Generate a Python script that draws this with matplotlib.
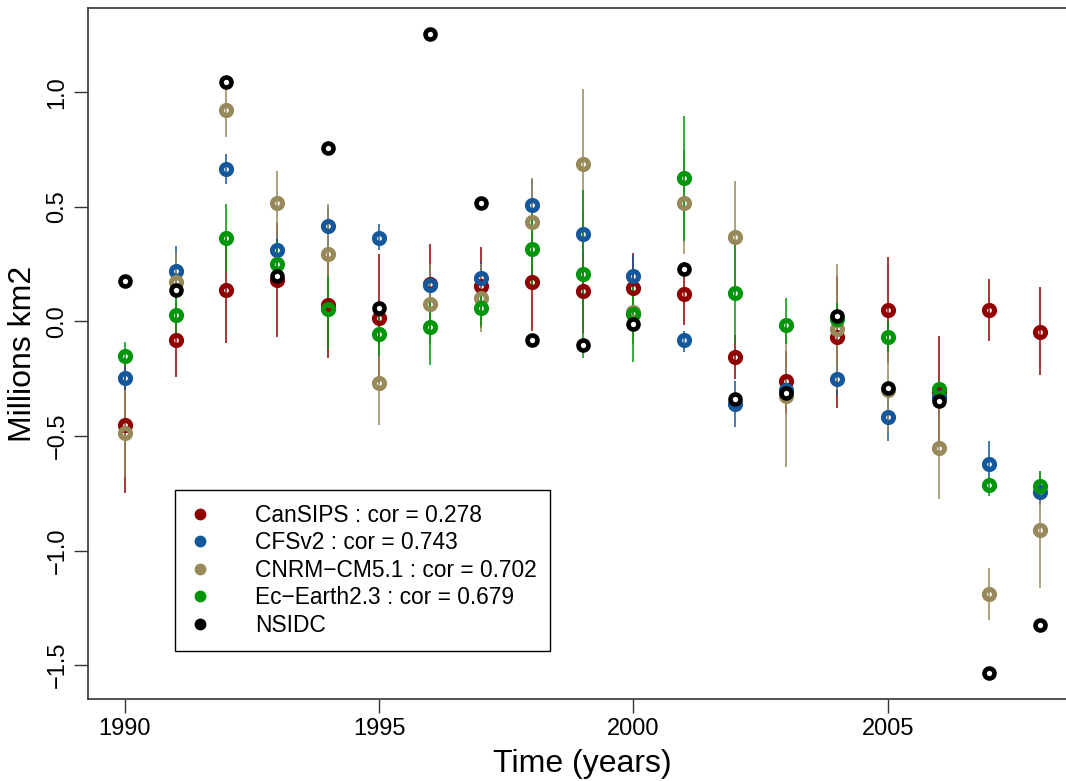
import matplotlib
matplotlib.use("Agg")
import matplotlib.pyplot as plt
from matplotlib.lines import Line2D

plt.rcParams["font.family"] = ["Liberation Sans", "DejaVu Sans"]

years = list(range(1990, 2009))

cansips = [-0.454, -0.083, 0.138, 0.182, 0.073, 0.016, 0.162, 0.154, 0.172, 0.132,
           0.146, 0.121, -0.155, -0.262, -0.068, 0.052, -0.310, 0.052, -0.045]
cansips_lo = [-0.75, -0.243, -0.095, -0.068, -0.159, -0.27, -0.05, -0.03, -0.04, -0.05,
              0.0, -0.017, -0.25, -0.40, -0.379, -0.18, -0.55, -0.085, -0.236]
cansips_hi = [-0.16, 0.08, 0.37, 0.43, 0.30, 0.296, 0.34, 0.325, 0.38, 0.30,
              0.298, 0.26, -0.06, -0.13, 0.20, 0.281, -0.062, 0.186, 0.149]

cfsv2 = [-0.246, 0.220, 0.667, 0.310, 0.416, 0.364, 0.157, 0.189, 0.507, 0.380,
         0.200, -0.083, -0.360, -0.298, -0.252, -0.416, -0.329, -0.623, -0.745]
cfsv2_lo = [-0.30, 0.10, 0.601, 0.22, 0.32, 0.31, 0.08, 0.12, 0.38, 0.28,
            0.10, -0.134, -0.461, -0.36, -0.32, -0.523, -0.36, -0.70, -0.80]
cfsv2_hi = [-0.20, 0.33, 0.732, 0.38, 0.50, 0.424, 0.24, 0.26, 0.62, 0.48,
            0.29, -0.04, -0.26, -0.24, -0.18, -0.31, -0.30, -0.523, -0.69]

cnrm = [-0.488, 0.170, 0.921, 0.517, 0.296, -0.268, 0.074, 0.102, 0.434, 0.689,
        0.040, 0.517, 0.368, -0.327, -0.034, -0.300, -0.551, -1.191, -0.910]
cnrm_lo = [-0.68, 0.0, 0.805, 0.36, 0.07, -0.454, -0.10, -0.047, 0.25, 0.36,
           -0.10, 0.296, 0.12, -0.635, -0.30, -0.485, -0.773, -1.304, -1.165]
cnrm_hi = [-0.30, 0.30, 1.016, 0.655, 0.514, -0.10, 0.25, 0.25, 0.627, 1.016,
           0.15, 0.75, 0.615, -0.02, 0.25, -0.135, -0.33, -1.078, -0.655]

ecearth = [-0.151, 0.030, 0.362, 0.249, 0.055, -0.057, -0.025, 0.058, 0.314, 0.205,
           0.033, 0.626, 0.123, -0.015, 0.010, -0.070, -0.295, -0.714, -0.720]
ecearth_lo = [-0.20, -0.07, 0.215, 0.15, -0.12, -0.15, -0.192, -0.02, 0.16, -0.159,
              -0.178, 0.35, -0.10, -0.10, -0.02, -0.135, -0.33, -0.76, -0.78]
ecearth_hi = [-0.09, 0.12, 0.511, 0.35, 0.20, 0.05, 0.10, 0.14, 0.47, 0.572,
              0.15, 0.897, 0.34, 0.103, 0.08, 0.0, -0.26, -0.68, -0.655]

nsidc = [0.176, 0.138, 1.045, 0.197, 0.757, 0.060, 1.256, 0.518, -0.083, -0.102,
         -0.010, 0.229, -0.340, -0.313, 0.025, -0.290, -0.349, -1.536, -1.326]

models = [
    ("CanSIPS : cor = 0.278", "#8f0000", cansips, cansips_lo, cansips_hi),
    ("CFSv2 : cor = 0.743", "#14579a", cfsv2, cfsv2_lo, cfsv2_hi),
    ("CNRM\u2212CM5.1 : cor = 0.702", "#978959", cnrm, cnrm_lo, cnrm_hi),
    ("Ec\u2212Earth2.3 : cor = 0.679", "#00950a", ecearth, ecearth_lo, ecearth_hi),
]

fig = plt.figure(figsize=(10.66, 7.81), dpi=100)
ax = fig.add_axes([88 / 1066, 82 / 781, 989 / 1066, 691 / 781])

for name, col, vals, lo, hi in models:
    ax.vlines(years, lo, hi, color=col, lw=1.1, zorder=2)
    ax.plot(years, vals, ls="", marker="o", ms=7.2, mew=3.7, mfc="none",
            mec=col, zorder=3)
ax.plot(years, nsidc, ls="", marker="o", ms=7.2, mew=3.3, mfc="white",
        mec="black", zorder=4)

ax.set_xlim(1989.28, 2008.72)
ax.set_ylim(-1.648, 1.368)
ax.set_xticks([1990, 1995, 2000, 2005])
ax.set_yticks([-1.5, -1.0, -0.5, 0.0, 0.5, 1.0])
ax.set_yticklabels(["\u22121.5", "\u22121.0", "\u22120.5", "0.0", "0.5", "1.0"])
ax.tick_params(length=10, width=1, color="#333333", labelsize=17, pad=4)
for lab in ax.get_yticklabels():
    lab.set_rotation(90)
    lab.set_va("center")
for sp in ax.spines.values():
    sp.set_color("#333333")
    sp.set_linewidth(1.2)

ax.set_xlabel("Time (years)", fontsize=23, labelpad=6)
ax.set_ylabel("Millions km2", fontsize=23, labelpad=6)

handles = [Line2D([], [], ls="", marker="o", ms=7.5, color=c) for _, c, *_ in models]
handles.append(Line2D([], [], ls="", marker="o", ms=7.5, color="black"))
labels = [m[0] for m in models] + ["NSIDC"]
leg = ax.legend(handles, labels, loc="upper left",
                bbox_to_anchor=(175 / 1066, 1 - 490 / 781),
                bbox_transform=fig.transFigure, borderaxespad=0,
                fontsize=16.4, handlelength=1.0, handletextpad=1.9,
                borderpad=0.6, labelspacing=0.2, fancybox=False,
                framealpha=1, edgecolor="black")
leg.get_frame().set_linewidth(1.0)

fig.savefig("out.png", dpi=100)
